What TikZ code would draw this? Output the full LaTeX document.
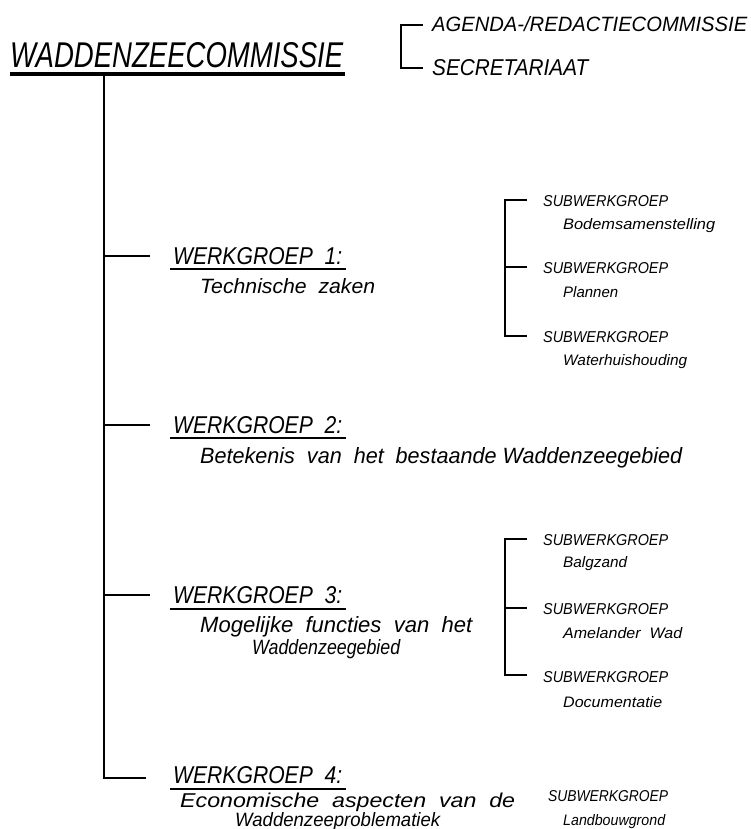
\documentclass[tikz,border=0pt]{standalone}
\usepackage{fontspec}
\setmainfont{Liberation Sans}
\usepackage{graphicx}
\newcommand{\lbl}[3]{\resizebox{#1pt}{#2pt}{\itshape #3}}
\begin{document}
\begin{tikzpicture}[x=1pt,y=-1pt,
  lab/.style={inner sep=0pt, anchor=base west},
  ln/.style={line width=1.2pt, line cap=butt},
  uline/.style={line width=1.5pt},
  tline/.style={line width=4pt}]
\useasboundingbox (0,0) rectangle (751,829);
\fill[white] (0,0) rectangle (751,829);

% Title
\node[lab] (title) at (10,68) {\lbl{333}{25}{WADDENZEECOMMISSIE}};
\coordinate (tuA) at (10,74.5);
\coordinate (tuB) at (345,74.5);
\draw[tline] (tuA) -- (tuB);

% Bracket top right
\node[lab] (agenda) at (432,32) {\lbl{315}{15}{AGENDA-/REDACTIECOMMISSIE}};
\node[lab] (secr) at (432,76) {\lbl{156}{16}{SECRETARIAAT}};
\coordinate (bk) at (401,25);
\coordinate (bt1) at (423,25);
\coordinate (bt2) at (423,68);
\draw[ln] (bt1) -- (bt1 -| bk) -- (bt2 -| bk) -- (bt2);

% Trunk
\coordinate (top) at (104,76);
\coordinate (b1) at (150,256);
\coordinate (b2) at (150,425);
\coordinate (b3) at (150,595);
\coordinate (b4) at (146,778);
\draw[ln] (top) -- (top |- b4) -- (b4);
\draw[ln] (top |- b1) -- (b1);
\draw[ln] (top |- b2) -- (b2);
\draw[ln] (top |- b3) -- (b3);

% Werkgroep 1
\node[lab] (wg1) at (173,264) {\lbl{169}{17}{WERKGROEP\ \ 1:}};
\draw[uline] (170,269) -- (346,269);
\node[lab] (wg1t) at (200,293) {\lbl{175}{15}{Technische\ \ zaken}};

% Werkgroep 2
\node[lab] (wg2) at (173,433) {\lbl{169}{17}{WERKGROEP\ \ 2:}};
\draw[uline] (170,438) -- (346,438);
\node[lab] (wg2t) at (200,463) {\lbl{482}{16}{Betekenis\ \ van\ \ het\ \ bestaande Waddenzeegebied}};

% Werkgroep 3
\node[lab] (wg3) at (173,603) {\lbl{169}{17}{WERKGROEP\ \ 3:}};
\draw[uline] (170,609) -- (346,609);
\node[lab] (wg3t) at (200,632) {\lbl{272}{16}{Mogelijke\ \ functies\ \ van\ \ het}};
\node[lab] (wg3u) at (252,654) {\lbl{148}{15}{Waddenzeegebied}};

% Werkgroep 4
\node[lab] (wg4) at (173,783) {\lbl{169}{17}{WERKGROEP\ \ 4:}};
\draw[uline] (170,789) -- (346,789);
\node[lab] (wg4t) at (180,807) {\lbl{335}{14.5}{Economische\ \ aspecten\ \ van\ \ de}};
\node[lab] (wg4u) at (235,826) {\lbl{205}{14}{Waddenzeeproblematiek}};

% Sub bracket 1
\node[lab] (s11) at (543,207) {\lbl{125}{11}{SUBWERKGROEP}};
\node[lab] (s11t) at (563,229) {\lbl{152}{11}{Bodemsamenstelling}};
\node[lab] (s12) at (543,273) {\lbl{125}{11}{SUBWERKGROEP}};
\node[lab] (s12t) at (563,297) {\lbl{55}{11}{Plannen}};
\node[lab] (s13) at (543,342) {\lbl{125}{11}{SUBWERKGROEP}};
\node[lab] (s13t) at (563,365) {\lbl{124}{11}{Waterhuishouding}};
\coordinate (sk1) at (505,200);
\coordinate (t11) at (527,200);
\coordinate (t12) at (527,267);
\coordinate (t13) at (527,336);
\draw[ln] (t11) -- (t11 -| sk1) -- (t13 -| sk1) -- (t13);
\draw[ln] (t12 -| sk1) -- (t12);

% Sub bracket 3
\node[lab] (s31) at (543,545) {\lbl{125}{11}{SUBWERKGROEP}};
\node[lab] (s31t) at (563,567) {\lbl{64}{11}{Balgzand}};
\node[lab] (s32) at (543,614) {\lbl{125}{11}{SUBWERKGROEP}};
\node[lab] (s32t) at (563,638) {\lbl{119}{11}{Amelander\ \ Wad}};
\node[lab] (s33) at (543,682) {\lbl{125}{11}{SUBWERKGROEP}};
\node[lab] (s33t) at (563,707) {\lbl{99}{11}{Documentatie}};
\coordinate (sk3) at (505,539);
\coordinate (t31) at (527,539);
\coordinate (t32) at (527,608);
\coordinate (t33) at (527,675);
\draw[ln] (t31) -- (t31 -| sk3) -- (t33 -| sk3) -- (t33);
\draw[ln] (t32 -| sk3) -- (t32);

% Sub 4
\node[lab] (s41) at (548,801) {\lbl{120}{11}{SUBWERKGROEP}};
\node[lab] (s41t) at (563,825) {\lbl{102}{11}{Landbouwgrond}};
\end{tikzpicture}
\end{document}
